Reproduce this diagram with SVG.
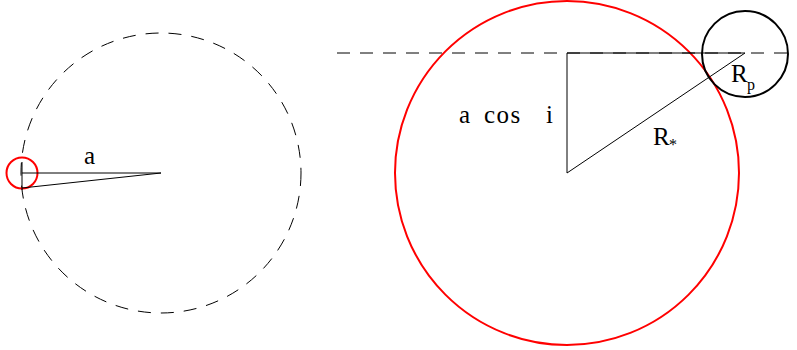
<svg xmlns="http://www.w3.org/2000/svg" width="797" height="350" viewBox="0 0 797 350">
<style>
.ln{stroke:#000;stroke-width:1;fill:none}
.dash{stroke:#000;stroke-width:1;fill:none;stroke-dasharray:13 10}
.red{stroke:#f00;stroke-width:2;fill:none}
.blk{stroke:#000;stroke-width:2;fill:none}
.t{font-family:"Liberation Serif",serif;font-size:25px;fill:#000}
.s{font-family:"Liberation Serif",serif;font-size:16px;fill:#000}
</style>
<rect width="797" height="350" fill="#fff"/>
<g id="orbit">
<circle class="dash" cx="161" cy="173" r="140"/>
</g>
<g id="planet-left">
<circle class="red" cx="22" cy="173" r="15.5"/>
</g>
<g id="star">
<circle class="red" cx="567" cy="173" r="172"/>
</g>
<g id="planet-right">
<circle class="blk" cx="745" cy="54" r="43"/>
</g>
<g id="connectors">
<line class="ln" x1="22" y1="162" x2="22" y2="190"/>
<line class="ln" x1="22" y1="173" x2="161" y2="173"/>
<line class="ln" x1="22" y1="188" x2="161" y2="173"/>
<line class="dash" x1="337" y1="53" x2="797" y2="53"/>
<line class="ln" x1="567" y1="53" x2="745" y2="53"/>
<line class="ln" x1="567" y1="53" x2="567" y2="173"/>
<line class="ln" x1="567" y1="173" x2="745" y2="53"/>
</g>
<g id="labels">
<text class="t" x="84" y="164">a</text>
<text class="t" x="459" y="123">a</text>
<text class="t" x="484" y="123" letter-spacing="1.5">cos</text>
<text class="t" x="546" y="123">i</text>
<text class="t" x="653" y="145">R</text>
<text class="s" x="669" y="150">*</text>
<text class="t" x="731" y="82">R</text>
<text class="s" x="747" y="90">p</text>
</g>
</svg>
